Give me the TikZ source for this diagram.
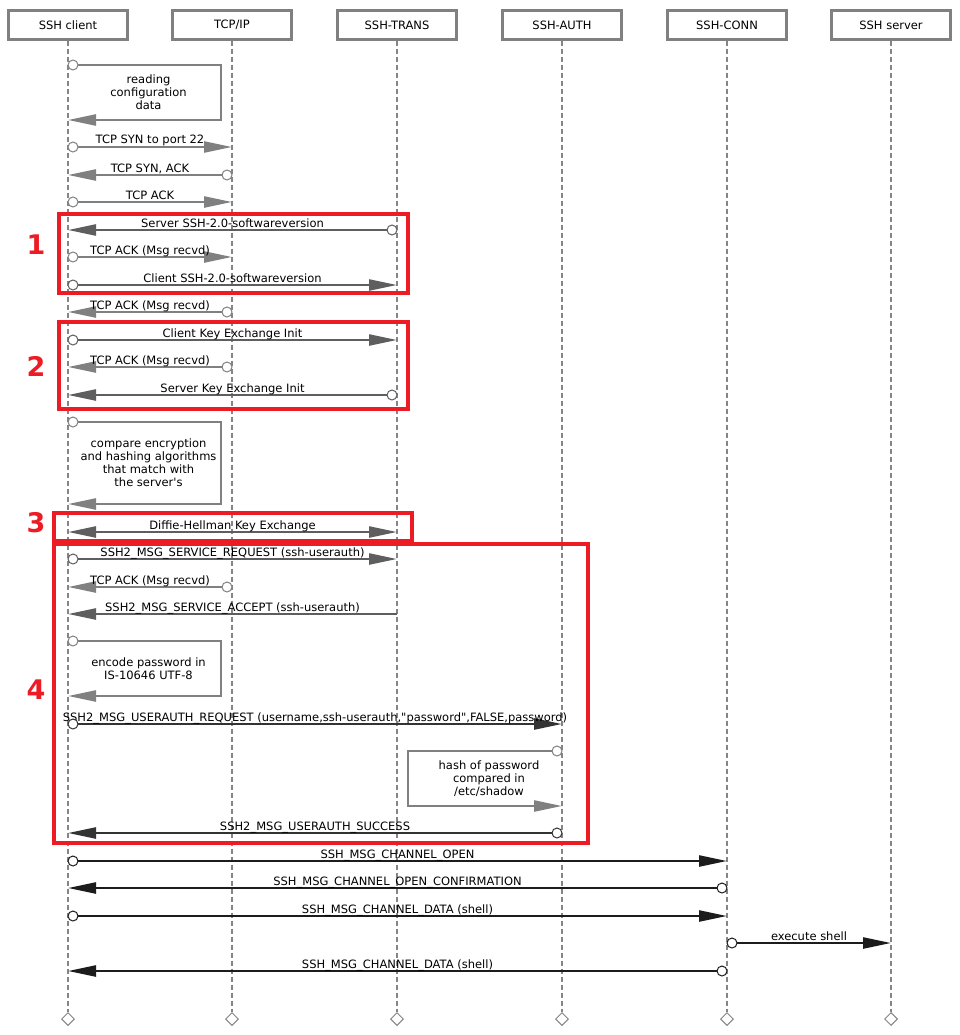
\documentclass[tikz,border=0pt]{standalone}
\usepackage{fontspec}
\setmainfont{DejaVu Sans}[Ligatures=TeXOff]
\usetikzlibrary{arrows.meta,calc,shapes.geometric}
\definecolor{lg}{HTML}{808080}
\definecolor{mg}{HTML}{5E5E5E}
\definecolor{dg}{HTML}{333333}
\definecolor{bk}{HTML}{1C1C1C}
\definecolor{lifec}{HTML}{858585}
\definecolor{redc}{HTML}{ED1C24}
\tikzset{
  header/.style={draw=lg, line width=2.2pt, minimum width=119pt, minimum height=29pt, inner sep=0pt, fill=white},
  lifeline/.style={draw=lifec, line width=2.2pt, dash pattern=on 5pt off 3pt},
  diam/.style={diamond, draw=lifec, fill=white, line width=1pt, minimum width=13pt, minimum height=13pt, inner sep=0pt},
  msgstyle/.style={line width=2.4pt, draw=#1, -{Triangle[length=28pt,width=11pt,fill=#1]}},
  dblstyle/.style={line width=2.4pt, draw=#1, {Triangle[length=28pt,width=11pt,fill=#1]}-{Triangle[length=28pt,width=11pt,fill=#1]}},
  circ/.style={circle, fill=white, minimum size=10pt, inner sep=0pt, line width=1pt},
  lbl/.style={midway, anchor=base, yshift=3pt, inner sep=0pt, text=black},
  selftext/.style={align=center, inner sep=0pt, text=black, xshift=4pt},
  redbox/.style={draw=redc, line width=4pt},
  num/.style={text=redc, font=\fontsize{27}{30}\selectfont\bfseries, inner sep=0pt}
}
\newcommand\msgline[5]{%
  \draw[msgstyle=#5] (#1 |- 0,#3) -- node[lbl]{#4} (#2 |- 0,#3);
  \node[circ, draw=#5] (o) at ($(#1 |- 0,#3)!5pt!(#2 |- 0,#3)$) {};}
\newcommand\msgplain[5]{%
  \draw[msgstyle=#5] (#1 |- 0,#3) -- node[lbl]{#4} (#2 |- 0,#3);}
\newcommand\selfloop[6]{%
  \draw[msgstyle=#6] (#1 |- 0,#3) -- (#2,#3) -- (#2,#4) -- (#1 |- 0,#4);
  \node[circ, draw=#6] (o) at ($(#1 |- 0,#3)!5pt!(#2,#3)$) {};
  \node[selftext] (t) at ($(#1 |- 0,#3)!0.5!(#2,#4)$) {#5};}
\begin{document}
\begin{tikzpicture}[x=1pt, y=-1pt, font=\fontsize{11.5}{13}\selectfont]
\useasboundingbox (0,0) rectangle (959,1035);
% headers
\node[header] (A) at (68,25) {SSH client};
\node[header] (B) at (232,25) {TCP/IP};
\node[header] (C) at (397,25) {SSH-TRANS};
\node[header] (D) at (562,25) {SSH-AUTH};
\node[header] (E) at (727,25) {SSH-CONN};
\node[header] (F) at (891,25) {SSH server};
% lifelines
\foreach \n in {A,B,C,D,E,F}{
  \draw[lifeline] (\n.south) -- (\n |- 0,1012);
  \node[diam] (end\n) at (\n |- 0,1019) {};
}
% messages
\selfloop{A}{221}{65}{120}{reading\\configuration\\data}{lg}
\msgline{A}{B}{147}{TCP SYN to port 22}{lg}
\msgline{B}{A}{175}{TCP SYN, ACK}{lg}
\msgline{A}{B}{202}{TCP ACK}{lg}
\msgline{C}{A}{230}{Server SSH-2.0-softwareversion}{mg}
\msgline{A}{B}{257}{TCP ACK (Msg recvd)}{lg}
\msgline{A}{C}{285}{Client SSH-2.0-softwareversion}{mg}
\msgline{B}{A}{312}{TCP ACK (Msg recvd)}{lg}
\msgline{A}{C}{340}{Client Key Exchange Init}{mg}
\msgline{B}{A}{367}{TCP ACK (Msg recvd)}{lg}
\msgline{C}{A}{395}{Server Key Exchange Init}{mg}
\selfloop{A}{221}{422}{504}{compare encryption\\and hashing algorithms\\that match with\\the server's}{lg}
\draw[dblstyle=mg] (A |- 0,532) -- node[lbl]{Diffie-Hellman Key Exchange} (C |- 0,532);
\msgline{A}{C}{559}{SSH2\_MSG\_SERVICE\_REQUEST (ssh-userauth)}{mg}
\msgline{B}{A}{587}{TCP ACK (Msg recvd)}{lg}
\msgplain{C}{A}{614}{SSH2\_MSG\_SERVICE\_ACCEPT (ssh-userauth)}{mg}
\selfloop{A}{221}{641}{696}{encode password in\\IS-10646 UTF-8}{lg}
\msgline{A}{D}{724}{SSH2\_MSG\_USERAUTH\_REQUEST (username,ssh-userauth,"password",FALSE,password)}{dg}
\selfloop{D}{408}{751}{806}{hash of password\\compared in\\/etc/shadow}{lg}
\msgline{D}{A}{833}{SSH2\_MSG\_USERAUTH\_SUCCESS}{dg}
\msgline{A}{E}{861}{SSH\_MSG\_CHANNEL\_OPEN}{bk}
\msgline{E}{A}{888}{SSH\_MSG\_CHANNEL\_OPEN\_CONFIRMATION}{bk}
\msgline{A}{E}{916}{SSH\_MSG\_CHANNEL\_DATA (shell)}{bk}
\msgline{E}{F}{943}{execute shell}{bk}
\msgline{E}{A}{971}{SSH\_MSG\_CHANNEL\_DATA (shell)}{bk}
% red frames
\draw[redbox] (59,214) rectangle (408,293);
\draw[redbox] (59,322) rectangle (408,409);
\draw[redbox] (54,513) rectangle (412,541);
\draw[redbox] (54,544) rectangle (588,843);
\node[num] (n1) at (36,245) {1};
\node[num] (n2) at (36,366) {2};
\node[num] (n3) at (36,523) {3};
\node[num] (n4) at (36,690) {4};
\end{tikzpicture}
\end{document}
